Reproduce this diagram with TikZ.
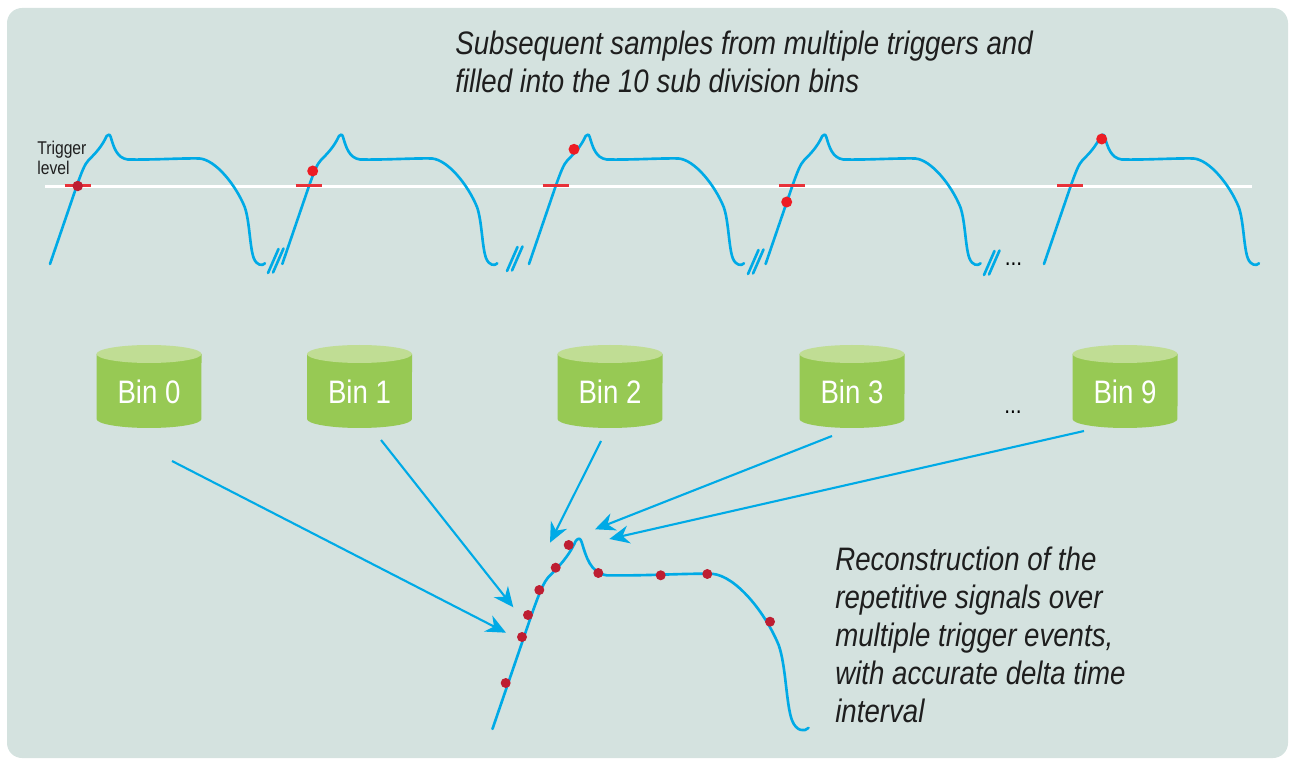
\documentclass[tikz,border=0pt]{standalone}
\usepackage{fontspec}
\usepackage{tikz}
\usetikzlibrary{arrows.meta, calc}
\newfontfamily\condfont[FakeStretch=0.85]{Liberation Sans}
\definecolor{panelgray}{RGB}{212,226,223}
\definecolor{signalblue}{RGB}{0,170,230}
\definecolor{sampred}{RGB}{237,28,36}
\definecolor{darkred}{RGB}{190,30,50}
\definecolor{markred}{RGB}{232,50,58}
\definecolor{binbody}{RGB}{151,201,84}
\definecolor{bintop}{RGB}{192,221,148}
\definecolor{inkblack}{RGB}{30,30,30}

\begin{document}
\begin{tikzpicture}[x=0.02cm, y=-0.02cm,
    wave/.style={draw=signalblue, line width=1.5pt, line cap=round, line join=round},
    trigmark/.style={draw=markred, line width=1.2pt},
    feed/.style={-{Stealth[length=4mm, width=3.6mm, inset=1.3mm]}, draw=signalblue, line width=1.2pt},
    binlabel/.style={font=\condfont\fontsize{18.5}{20}\selectfont, text=white, inner sep=0pt},
    caption/.style={font=\condfont\itshape\fontsize{18.5}{21.5}\selectfont, text=inkblack, align=left, anchor=north west, inner sep=0pt},
    sigwave/.pic={\draw[wave] (-57.7,129) -- (-31,51) .. controls (-26,37) and (-23,29) .. (-19,25)
        .. controls (-13,19) and (-6,12) .. (-1,1) .. controls (1,-1) and (2,-1) .. (3,2)
        .. controls (6,12) and (9,23) .. (20,24.5) .. controls (45,25) and (75,23) .. (92,23.5)
        .. controls (108,25) and (128,50) .. (137,72) .. controls (142,86) and (142,112) .. (146,123)
        .. controls (149,131) and (155,131) .. (157.3,128.3);}
]
\useasboundingbox (0,0) rectangle (1291,759);
\fill[panelgray, rounded corners=0.3cm] (7,8) rectangle (1288,758);

\node[caption] (title) at (455,31) {Subsequent samples from multiple triggers and\\filled into the 10 sub division bins};
\node[font=\condfont\fontsize{10.5}{11}\selectfont, text=inkblack, align=left, anchor=north west, inner sep=0pt] (trig) at (37,141) {Trigger\\level};

\draw[white, line width=1.6pt] (45,186.5) -- (1252,186.5);
\foreach \p in {107.7, 340, 586.7, 823.3, 1101.7}
    \pic at (\p,135) {sigwave};
\foreach \bx/\by in {268/273, 507/271, 748/274, 984/275} {
    \draw[wave] (\bx,\by) -- ++(10.5,-24);
    \draw[wave] (\bx+5,\by-0.5) -- ++(10.5,-24);
}
\node[font=\condfont\fontsize{14}{16}\selectfont, anchor=base, inner sep=0pt] (gapdots) at (1013.5,266) {...};
\foreach \m in {77.7, 308.7, 555.7, 792, 1070}
    \draw[trigmark] (\m-13,185.5) -- (\m+13,185.5);
\fill[darkred] (77.7,186) circle[radius=0.105cm];
\foreach \d in {(312.7,171), (574,149.3), (786.7,202), (1101.7,139)}
    \fill[sampred] \d circle[radius=0.11cm];

\foreach \c/\n in {149/0, 359.5/1, 610/2, 852/3, 1125/9} {
    \fill[binbody] (\c-52.5,354) -- (\c-52.5,419) arc[start angle=180, end angle=360, x radius=1.05cm, y radius=0.18cm] -- (\c+52.5,354) -- cycle;
    \fill[bintop] (\c,354) ellipse[x radius=1.05cm, y radius=0.18cm];
    \node[binlabel] (bin\n) at (\c,392) {Bin \n};
}
\node[font=\condfont\fontsize{14}{16}\selectfont, anchor=base, inner sep=0pt] (bindots) at (1013,414) {...};

\pic[scale=1.47] at (577.3,539.3) {sigwave};
\foreach \d in {(505.7,683), (522,637), (528,615), (539.3,590), (555.7,567.7), (568.7,545), (598.3,573), (660.7,575.3), (707.3,574), (770,621.7)}
    \fill[darkred] \d circle[radius=0.1cm];

\coordinate (from0) at (172,461);
\coordinate (from1) at (381,440);
\coordinate (from2) at (601,441);
\coordinate (from3) at (832,436);
\coordinate (from9) at (1084,431);
\coordinate (tip0) at (506,632.7);
\coordinate (tip1) at (513.3,607.3);
\coordinate (tip2) at (550,542.7);
\coordinate (tip3) at (595,529.3);
\coordinate (tip9) at (609.3,539);
\foreach \n in {0,1,2,3,9}
    \draw[feed] (from\n) -- (tip\n);

\node[caption] (recon) at (835,547) {Reconstruction of the\\repetitive signals over\\multiple trigger events,\\with accurate delta time\\interval};
\end{tikzpicture}
\end{document}
